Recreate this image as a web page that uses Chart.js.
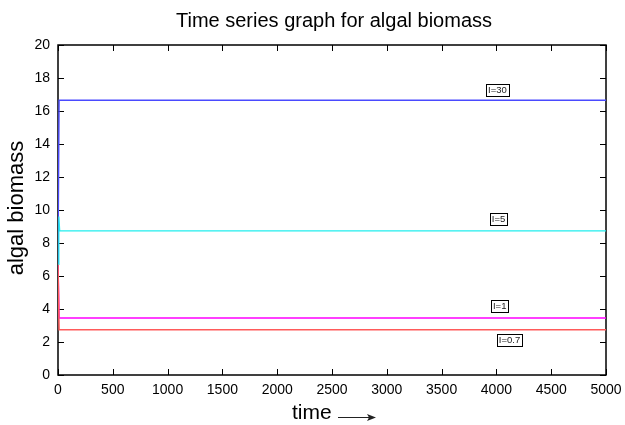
<!DOCTYPE html>
<html>
<head>
<meta charset="utf-8">
<script src="https://cdn.jsdelivr.net/npm/chart.js@4.4.1/dist/chart.umd.min.js"></script>
<style>
  html, body { margin: 0; padding: 0; background: #fff; }
  #wrap { width: 625px; height: 425px; }
</style>
</head>
<body>
<div id="wrap"><canvas id="biomassChart" width="625" height="425"></canvas></div>
<script>
// time steps and biomass for each light level
const tBlue = [0, 10, 5000];
const yBlue = [6.7, 16.65, 16.65];
const tCyan = [0, 8, 16, 5000];
const yCyan = [6.7, 9.6, 8.73, 8.73];
const tMagenta = [0, 10, 5000];
const yMagenta = [6.7, 3.45, 3.45];
const tRed = [0, 10, 5000];
const yRed = [6.7, 2.75, 2.75];

const xTicks = [0, 500, 1000, 1500, 2000, 2500, 3000, 3500, 4000, 4500, 5000];
const yTicks = [0, 2, 4, 6, 8, 10, 12, 14, 16, 18, 20];

// curve labels: text, x, y (data units)
const labelText = ['I=30', 'I=5', 'I=1', 'I=0.7'];
const labelX = [4010, 4020, 4030, 4120];
const labelY = [17.3, 9.45, 4.2, 2.1];

const FONT = '"Liberation Sans", Arial, Helvetica, sans-serif';

function pts(t, y) {
  return t.map((x, i) => ({x: x, y: y[i]}));
}

// gnuplot-ish frame: inward ticks on every side, drawn under the curves
const framePlugin = {
  id: 'frame',
  beforeDatasetsDraw(chart) {
    const ctx = chart.ctx;
    const a = chart.chartArea;
    const xs = chart.scales.x, ys = chart.scales.y;
    ctx.save();
    ctx.strokeStyle = '#000';
    ctx.lineWidth = 1.5;
    ctx.strokeRect(a.left, a.top, a.right - a.left, a.bottom - a.top);
    ctx.lineWidth = 1;
    const tl = 6;
    xTicks.forEach(v => {
      const px = Math.round(xs.getPixelForValue(v)) + 0.5;
      ctx.beginPath();
      ctx.moveTo(px, a.bottom); ctx.lineTo(px, a.bottom - tl);
      ctx.moveTo(px, a.top); ctx.lineTo(px, a.top + tl);
      ctx.stroke();
    });
    yTicks.forEach(v => {
      const py = Math.round(ys.getPixelForValue(v)) + 0.5;
      ctx.beginPath();
      ctx.moveTo(a.left, py); ctx.lineTo(a.left + tl, py);
      ctx.moveTo(a.right, py); ctx.lineTo(a.right - tl, py);
      ctx.stroke();
    });
    ctx.restore();
  },
  // boxed curve labels and titles
  afterDraw(chart) {
    const ctx = chart.ctx;
    const xs = chart.scales.x, ys = chart.scales.y;
    ctx.save();
    ctx.font = '9.5px ' + FONT;
    ctx.textBaseline = 'middle';
    ctx.textAlign = 'left';
    labelText.forEach((s, i) => {
      const cx = xs.getPixelForValue(labelX[i]);
      const cy = ys.getPixelForValue(labelY[i]);
      const w = ctx.measureText(s).width + 4;
      const h = 12;
      ctx.fillStyle = '#fff';
      ctx.fillRect(cx - w / 2, cy - h / 2, w, h);
      ctx.strokeStyle = '#000';
      ctx.lineWidth = 1;
      ctx.strokeRect(Math.round(cx - w / 2) + 0.5, Math.round(cy - h / 2) + 0.5, Math.round(w), h);
      ctx.fillStyle = '#222';
      ctx.fillText(s, cx - w / 2 + 2, cy + 0.5);
    });

    ctx.fillStyle = '#000';
    ctx.textAlign = 'center';
    ctx.textBaseline = 'middle';
    ctx.font = '20px ' + FONT;
    ctx.fillText('Time series graph for algal biomass', 334, 21);

    ctx.font = '21px ' + FONT;
    ctx.textAlign = 'left';
    ctx.fillText('time', 292, 413);
    // arrow after "time"
    ctx.lineWidth = 1;
    ctx.strokeStyle = '#222';
    ctx.fillStyle = '#222';
    ctx.beginPath();
    ctx.moveTo(338, 417.5); ctx.lineTo(370, 417.5);
    ctx.stroke();
    ctx.beginPath();
    ctx.moveTo(376, 417.5); ctx.lineTo(367, 414); ctx.lineTo(369, 417.5); ctx.lineTo(367, 421);
    ctx.closePath();
    ctx.fill();

    ctx.fillStyle = '#000';
    ctx.translate(17, 208);
    ctx.rotate(-Math.PI / 2);
    ctx.textAlign = 'center';
    ctx.font = '22px ' + FONT;
    ctx.fillText('algal biomass', 0, 0);
    ctx.restore();
  }
};

function line(data, color, w) {
  return {
    data: data,
    borderColor: color,
    borderWidth: w,
    pointRadius: 0,
    fill: false,
    tension: 0
  };
}

new Chart(document.getElementById('biomassChart'), {
  type: 'line',
  data: {
    datasets: [
      line(pts(tRed, yRed), '#ff5a5a', 1.5),
      line(pts(tCyan, yCyan), '#22eeee', 1.2),
      line(pts(tMagenta, yMagenta), '#ff00ff', 1.5),
      line(pts(tBlue, yBlue), '#4a4aff', 1.4)
    ]
  },
  options: {
    responsive: false,
    animation: false,
    layout: { padding: { left: 0, right: 19, top: 45, bottom: 0 } },
    plugins: { legend: { display: false }, tooltip: { enabled: false } },
    scales: {
      x: {
        type: 'linear',
        min: 0, max: 5000,
        afterBuildTicks: s => { s.ticks = xTicks.map(v => ({value: v})); },
        afterFit: s => { s.height = 50; s.paddingLeft = 0; s.paddingRight = 0; },
        grid: { display: false, drawTicks: false },
        border: { display: false },
        ticks: { color: '#000', font: { family: FONT, size: 14 }, padding: 7, maxRotation: 0,
                 callback: v => String(v) }
      },
      y: {
        min: 0, max: 20,
        afterBuildTicks: s => { s.ticks = yTicks.map(v => ({value: v})); },
        afterFit: s => { s.width = 58; },
        grid: { display: false, drawTicks: false },
        border: { display: false },
        ticks: { color: '#000', font: { family: FONT, size: 14 }, padding: 8 }
      }
    }
  },
  plugins: [framePlugin]
});
</script>
</body>
</html>
